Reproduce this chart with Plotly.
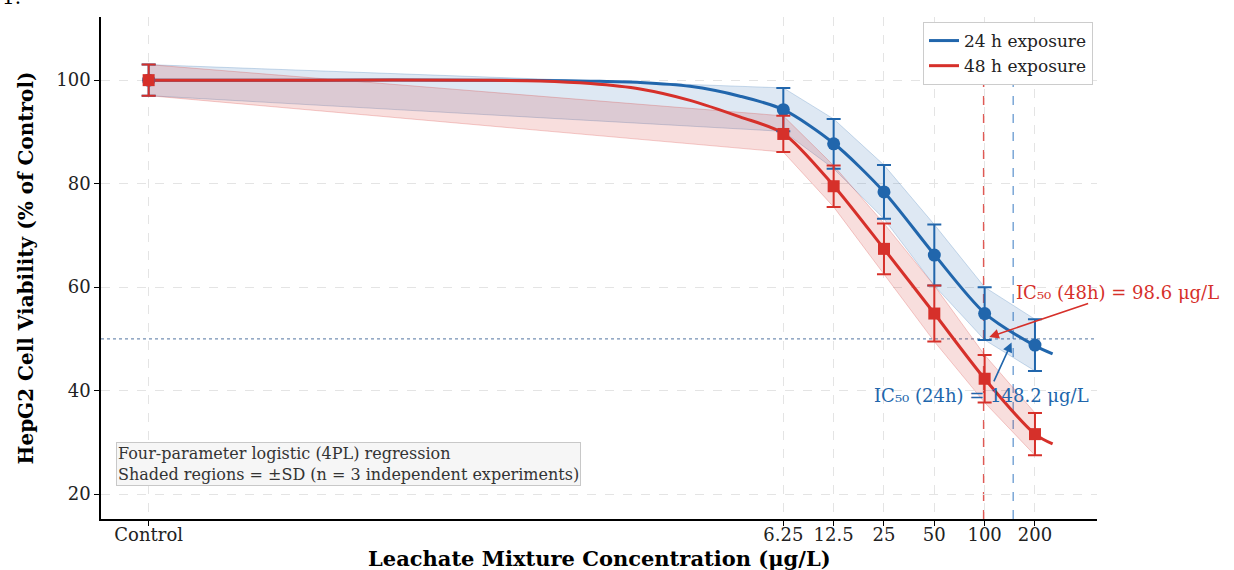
import math
import plotly.graph_objects as go

# ---------------- data ----------------
categories = ["Control", "6.25", "12.5", "25", "50", "100", "200"]
conc = [0.001, 6.25, 12.5, 25, 50, 100, 200]          # Control placed at 0.001 on the log axis

mean_24h = [100.0, 94.3, 87.7, 78.4, 66.2, 54.9, 48.8]
sd_24h   = [3.0, 4.2, 4.8, 5.2, 5.9, 5.1, 5.0]
mean_48h = [100.0, 89.6, 79.5, 67.4, 54.9, 42.3, 31.6]
sd_48h   = [3.0, 3.5, 4.0, 4.9, 5.4, 4.6, 4.1]

# fitted 4PL curves
curve_x_24h = [0.001, 0.01, 0.1, 0.22, 0.44, 0.87, 1.73, 3.44, 6.25, 12.5, 25, 50, 100, 200, 255]
curve_y_24h = [100.0, 100.0, 100.0, 99.95, 99.8, 99.55, 98.8, 96.9, 94.3, 87.8, 78.4, 66.3, 55.0, 48.7, 47.1]
curve_x_48h = [0.001, 0.01, 0.1, 0.22, 0.44, 0.87, 1.73, 3.44, 6.25, 12.5, 25, 50, 100, 200, 255]
curve_y_48h = [100.0, 100.0, 99.98, 99.85, 99.35, 98.3, 96.1, 92.9, 89.7, 79.6, 67.4, 54.9, 42.3, 31.6, 29.7]

ic50_24h = 148.2
ic50_48h = 98.6
half_viability = 50

yticks = [20, 40, 60, 80, 100]

BLUE = "#2166ac"
RED = "#d6302a"
SERIF = "DejaVu Serif"

fig = go.Figure()

# ---------------- SD bands ----------------
def band(mean, sd, rgb, alpha):
    up = [m + s for m, s in zip(mean, sd)]
    lo = [m - s for m, s in zip(mean, sd)]
    fig.add_trace(go.Scatter(x=conc, y=up, mode="lines",
                             line=dict(color=f"rgba({rgb},{alpha+0.08})", width=1),
                             showlegend=False, hoverinfo="skip"))
    fig.add_trace(go.Scatter(x=conc, y=lo, mode="lines", fill="tonexty",
                             fillcolor=f"rgba({rgb},{alpha})",
                             line=dict(color=f"rgba({rgb},{alpha+0.08})", width=1),
                             showlegend=False, hoverinfo="skip"))

band(mean_24h, sd_24h, "33,102,172", 0.15)
band(mean_48h, sd_48h, "214,48,42", 0.16)

# ---------------- fitted curves ----------------
fig.add_trace(go.Scatter(x=curve_x_24h, y=curve_y_24h, mode="lines", name="24 h exposure",
                         line=dict(color=BLUE, width=3, shape="spline", smoothing=0.8)))
fig.add_trace(go.Scatter(x=curve_x_48h, y=curve_y_48h, mode="lines", name="48 h exposure",
                         line=dict(color=RED, width=3, shape="spline", smoothing=0.8)))

# ---------------- data points ----------------
fig.add_trace(go.Scatter(x=conc, y=mean_24h, mode="markers", showlegend=False,
                         marker=dict(color=BLUE, size=13, symbol="circle"),
                         error_y=dict(type="data", array=sd_24h, color=BLUE, thickness=2, width=7)))
fig.add_trace(go.Scatter(x=conc, y=mean_48h, mode="markers", showlegend=False,
                         marker=dict(color=RED, size=12, symbol="square"),
                         error_y=dict(type="data", array=sd_48h, color=RED, thickness=2, width=7)))

# ---------------- reference lines ----------------
fig.add_shape(type="line", xref="x", yref="paper", x0=ic50_48h, x1=ic50_48h, y0=0, y1=1,
              line=dict(color="rgba(214,48,42,0.8)", width=1.5, dash="dash"), layer="between")
fig.add_shape(type="line", xref="x", yref="paper", x0=ic50_24h, x1=ic50_24h, y0=0, y1=1,
              line=dict(color="rgba(90,145,205,0.8)", width=1.5, dash="dash"), layer="between")
fig.add_shape(type="line", xref="paper", yref="y", x0=0, x1=1, y0=half_viability, y1=half_viability,
              line=dict(color="rgba(80,115,160,0.8)", width=1.3, dash="dot"), layer="between")

# ---------------- annotations ----------------
fig.add_annotation(x=2.176, y=59.0, xref="x", yref="y", xanchor="left", yanchor="middle",
                   text=f"IC₅₀ (48h) = {ic50_48h} μg/L", showarrow=False,
                   font=dict(family=SERIF, size=18, color=RED))
fig.add_annotation(x=1.325, y=39.1, xref="x", yref="y", xanchor="left", yanchor="middle",
                   text=f"IC₅₀ (24h) = {ic50_24h} μg/L", showarrow=False,
                   font=dict(family=SERIF, size=18, color=BLUE))
fig.add_annotation(x=math.log10(ic50_48h), y=half_viability, xref="x", yref="y", text="",
                   showarrow=True, ax=106, ay=-36, arrowhead=2, arrowsize=1.2, arrowwidth=1.6,
                   arrowcolor=RED, standoff=6)
fig.add_annotation(x=math.log10(ic50_24h), y=half_viability, xref="x", yref="y", text="",
                   showarrow=True, ax=-20, ay=44, arrowhead=2, arrowsize=1.2, arrowwidth=1.6,
                   arrowcolor=BLUE, standoff=4)

fig.add_annotation(x=0.015, y=0.066, xref="paper", yref="paper", xanchor="left", yanchor="bottom",
                   align="left", showarrow=False,
                   text="Four-parameter logistic (4PL) regression<br>Shaded regions = ±SD (n = 3 independent experiments)",
                   font=dict(family=SERIF, size=16, color="#333333"),
                   bgcolor="#f6f6f6", bordercolor="#c8c8c8", borderwidth=1, borderpad=1)

# x-axis title (placed as a paper annotation so it sits tight under the tick labels)
fig.add_annotation(x=0.5, y=(519 - 558) / 502, xref="paper", yref="paper", xanchor="center",
                   yanchor="middle", showarrow=False,
                   text="Leachate Mixture Concentration (μg/L)",
                   font=dict(family=SERIF, size=21, weight="bold", color="black"))

# stray label from the page above the chart (cut at the top edge, as in the source)
fig.add_annotation(x=-101/996, y=(519 - 11) / 502, xref="paper", yref="paper", xanchor="left",
                   yanchor="bottom", text="1.", showarrow=False,
                   font=dict(family=SERIF, size=20, color="black"))

# ---------------- layout ----------------
fig.update_layout(
    width=1234, height=570,
    margin=dict(l=101, r=137, t=17, b=51, autoexpand=False),
    paper_bgcolor="white", plot_bgcolor="white",
    font=dict(family=SERIF, color="#222222"),
    legend=dict(x=0.996, y=0.99, xanchor="right", yanchor="top", traceorder="normal",
                bgcolor="white", bordercolor="#cccccc", borderwidth=1,
                font=dict(family=SERIF, size=17, color="#222222"),
                tracegroupgap=0),
    showlegend=True,
)
fig.update_xaxes(type="log", range=[-3.285, 2.672], automargin=False,
                 tickvals=conc, ticktext=categories,
                 tickfont=dict(family=SERIF, size=18, color="#222222"),
                 ticklabelstandoff=-6,
                 showgrid=True, gridcolor="#e4e4e4", griddash="dash", gridwidth=1,
                 ticks="outside", ticklen=5, tickwidth=1.3, tickcolor="black",
                 showline=True, linecolor="black", linewidth=1.6, zeroline=False)
fig.update_yaxes(range=[15.2, 112.2], tickvals=yticks, automargin=False,
                 tickfont=dict(family=SERIF, size=18, color="#222222"),
                 showgrid=True, gridcolor="#e4e4e4", griddash="dash", gridwidth=1,
                 ticks="outside", ticklen=5, tickwidth=1.3, tickcolor="black",
                 showline=True, linecolor="black", linewidth=1.6, zeroline=False,
                 title=dict(text="HepG2 Cell Viability (% of Control)", standoff=17,
                            font=dict(family=SERIF, size=20, weight="bold", color="black")))

fig.write_html("out.html", config={"displayModeBar": False},
               post_script="document.body.style.margin='0px';")
